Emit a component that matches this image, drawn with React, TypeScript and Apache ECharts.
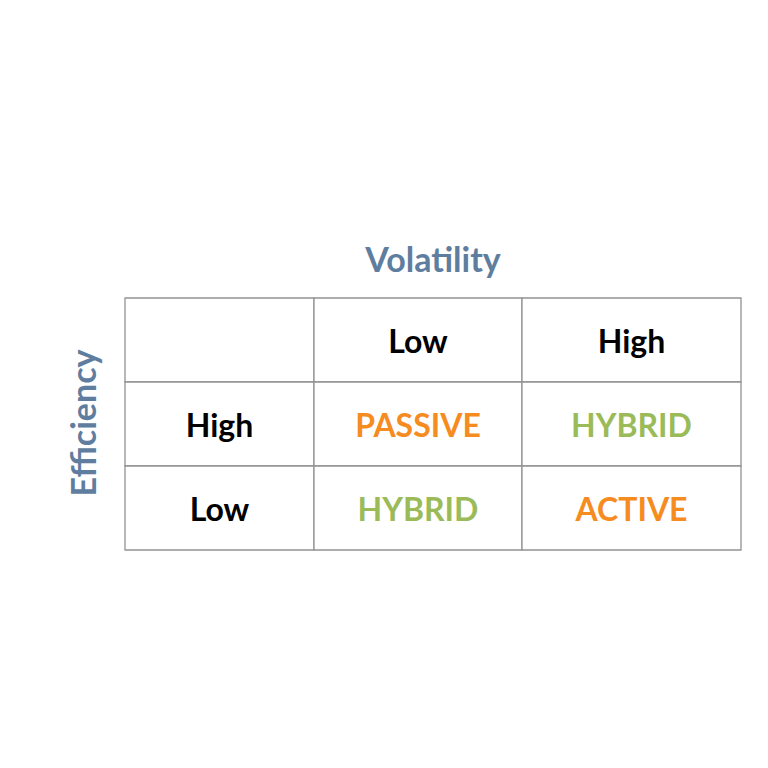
import React, { useEffect, useRef } from "react";
import * as echarts from "echarts";

// ---- data ----
const rowTitle = "Efficiency";
const colTitle = "Volatility";
const volatilityLevels = ["Low", "High"];
const efficiencyLevels = ["High", "Low"];
const strategies = [
  ["PASSIVE", "HYBRID"],
  ["HYBRID", "ACTIVE"],
];

// ---- layout / style ----
const colWidths = [189, 208, 219];
const FONT = "Lato, 'Noto Sans', sans-serif";
const TITLE_COLOR = "#5F7E9F";
const strategyColor: Record<string, string> = {
  PASSIVE: "#F68B1F",
  ACTIVE: "#F68B1F",
  HYBRID: "#9BBB59",
};

function buildCells() {
  const cells: { value: [number, number]; text: string; color: string }[] = [];
  const grid: string[][] = [
    ["", ...volatilityLevels],
    ...efficiencyLevels.map((e, i) => [e, ...strategies[i]]),
  ];
  grid.forEach((row, r) =>
    row.forEach((t, c) => {
      cells.push({
        value: [c, r],
        text: t,
        color: r === 0 || c === 0 ? "#000000" : strategyColor[t] || "#000",
      });
    })
  );
  return cells;
}

export default function App() {
  const ref = useRef<HTMLDivElement>(null);
  useEffect(() => {
    if (!ref.current) return;
    const chart = echarts.init(ref.current, undefined, { renderer: "svg" });
    const starts: number[] = [];
    let acc = 0;
    colWidths.forEach((w) => {
      starts.push(acc);
      acc += w;
    });
    const total = acc;
    const cells = buildCells();
    chart.setOption({
      animation: false,
      backgroundColor: "#ffffff",
      grid: { left: 125, right: 27, top: 298, bottom: 218 },
      xAxis: { type: "value", min: 0, max: total, show: false },
      yAxis: { type: "value", min: 0, max: 3, inverse: true, show: false },
      graphic: [
        {
          type: "text",
          x: 433,
          y: 258,
          style: {
            text: colTitle,
            font: `bold 34px ${FONT}`,
            fill: TITLE_COLOR,
            align: "center",
            verticalAlign: "middle",
          },
        },
        {
          type: "text",
          x: 82,
          y: 423,
          rotation: Math.PI / 2,
          style: {
            text: rowTitle,
            font: `bold 34px ${FONT}`,
            fill: TITLE_COLOR,
            align: "center",
            verticalAlign: "middle",
          },
        },
      ],
      series: [
        {
          type: "custom",
          data: cells.map((c) => c.value),
          renderItem: (params: any, api: any) => {
            const c = api.value(0) as number;
            const r = api.value(1) as number;
            const p0 = api.coord([starts[c], r]);
            const p1 = api.coord([starts[c] + colWidths[c], r + 1]);
            const cell = cells[params.dataIndex];
            return {
              type: "group",
              children: [
                {
                  type: "rect",
                  shape: { x: p0[0], y: p0[1], width: p1[0] - p0[0], height: p1[1] - p0[1] },
                  style: { fill: "#ffffff", stroke: "#939393", lineWidth: 1.3 },
                },
                {
                  type: "text",
                  x: (p0[0] + p1[0]) / 2,
                  y: (p0[1] + p1[1]) / 2,
                  style: {
                    text: cell.text,
                    font: `bold 32px ${FONT}`,
                    fill: cell.color,
                    align: "center",
                    verticalAlign: "middle",
                  },
                },
              ],
            };
          },
        },
      ],
    });
    return () => chart.dispose();
  }, []);
  return (
    <div
      ref={ref}
      style={{ position: "fixed", left: 0, top: 0, width: 768, height: 768 }}
    />
  );
}
